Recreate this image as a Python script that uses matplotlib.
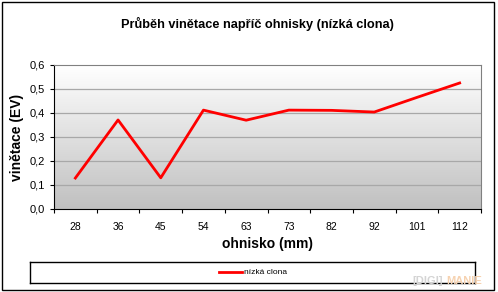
import numpy as np
import matplotlib
matplotlib.use('Agg')
import matplotlib.pyplot as plt
from matplotlib.patches import Rectangle

focal = ['28', '36', '45', '54', '63', '73', '82', '92', '101', '112']
vignet = [0.129, 0.371, 0.130, 0.412, 0.370, 0.412, 0.411, 0.404, 0.465, 0.525]

plt.rcParams['font.family'] = ['Liberation Sans', 'DejaVu Sans']

fig = plt.figure(figsize=(4.98, 2.92), dpi=100)
W, H = 498, 292
ax = fig.add_axes([54 / W, 1 - 209 / H, 427 / W, 144 / H])

x = np.arange(len(focal))
ax.set_xlim(-0.5, len(focal) - 0.5)
ax.set_ylim(0, 0.6)

# gray gradient background
grad = np.linspace(0, 1, 256).reshape(-1, 1)
ax.imshow(grad, extent=[-0.5, len(focal) - 0.5, 0, 0.6], aspect='auto',
          cmap=matplotlib.colors.LinearSegmentedColormap.from_list('g', ['#c0c0c0', '#ffffff']),
          origin='lower', zorder=0)

for yv in np.arange(0.1, 0.6, 0.1):
    ax.axhline(yv, color='#a8a8a8', lw=0.9, zorder=1)

ax.plot(x, vignet, color='#ff0000', lw=2, zorder=3, label='nízká clona')

ax.set_yticks(np.arange(0, 0.61, 0.1))
ax.set_yticklabels([f'{v:.1f}'.replace('.', ',') for v in np.arange(0, 0.61, 0.1)], fontsize=8)
ax.set_xticks(np.arange(-0.5, len(focal), 1))
ax.set_xticklabels([])
ax.set_xticks(x, minor=True)
ax.set_xticklabels(focal, minor=True, fontsize=7.5)
ax.tick_params(axis='x', which='minor', length=0, pad=9)
ax.tick_params(axis='both', which='major', direction='out', length=3, width=0.8)

for s in ['top', 'right']:
    ax.spines[s].set_color('#808080')
for s in ['left', 'bottom']:
    ax.spines[s].set_color('black')

ax.set_xlabel('ohnisko (mm)', fontsize=10, fontweight='bold', labelpad=4)
ax.set_ylabel('vinětace (EV)', fontsize=10, fontweight='bold', labelpad=4)

fig.text(257 / W, 1 - 24 / H, 'Průběh vinětace napříč ohnisky (nízká clona)',
         ha='center', va='center', fontsize=9.2, fontweight='bold')

# outer frame
fig.patches.append(Rectangle((1.5 / W, 1 - 290 / H), 492 / W, 288 / H, transform=fig.transFigure,
                             fill=False, edgecolor='black', lw=1))

# legend box
lax = fig.add_axes([30 / W, 1 - 283 / H, 445 / W, 21 / H])
lax.set_xticks([])
lax.set_yticks([])
for s in lax.spines.values():
    s.set_color('black')
    s.set_linewidth(1)
lax.set_xlim(0, 445)
lax.set_ylim(0, 21)
h, l = ax.get_legend_handles_labels()
lax.legend(h, l, loc='center', frameon=False, fontsize=6, handlelength=2.8,
           handletextpad=0.2, borderaxespad=0)

# watermark
fig.text(412 / W, 1 - 281 / H, '[DIGI]', ha='left', va='center', fontsize=8,
         fontweight='bold', color='#d4d4d4')
fig.text(446 / W, 1 - 281 / H, 'MANIE', ha='left', va='center', fontsize=8,
         fontweight='bold', color='#f6d2b0')

fig.savefig('out.png', dpi=100)
